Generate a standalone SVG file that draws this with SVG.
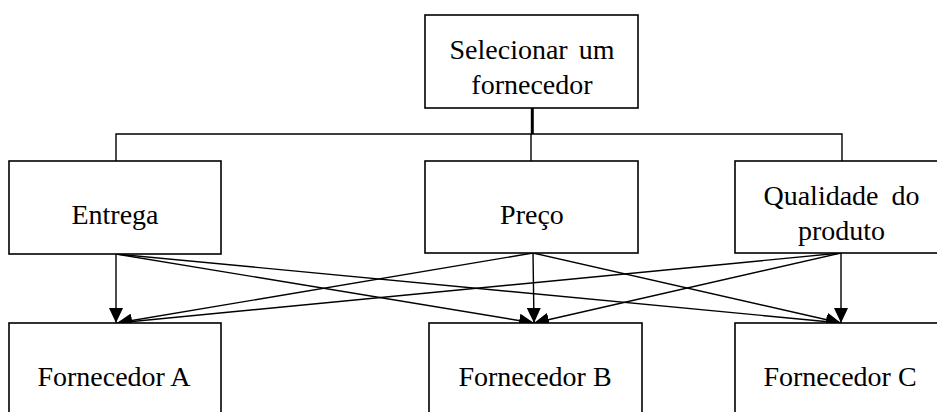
<svg xmlns="http://www.w3.org/2000/svg" width="937" height="412" viewBox="0 0 937 412">
  <style>
    .box { fill: #ffffff; stroke: #000000; stroke-width: 1.6; }
    .label { font-family: "Liberation Serif", "Times New Roman", serif; font-size: 28px; fill: #000000; text-anchor: middle; }
    .wire { fill: none; stroke: #000000; stroke-width: 1.4; }
    .arrow { fill: none; stroke: #000000; stroke-width: 1.4; marker-end: url(#head); }
  </style>
  <defs>
    <marker id="head" markerUnits="userSpaceOnUse" markerWidth="16" markerHeight="14" refX="15" refY="7" orient="auto">
      <path d="M0,0 L15,7 L0,14 Z" fill="#000000"/>
    </marker>
  </defs>
  <rect width="937" height="412" fill="#ffffff"/>

  <g id="connectors">
    <!-- hierarchy: goal to criteria -->
    <line class="wire" x1="532.3" y1="108" x2="532.3" y2="134" style="stroke-width:3"/>
    <polyline class="wire" points="116,161 116,134 842,134 842,161"/>
    <line class="wire" x1="531" y1="134" x2="531" y2="161"/>
    <!-- criteria to alternatives -->
    <line class="arrow" x1="116" y1="254" x2="116" y2="323"/>
    <line class="arrow" x1="116" y1="254" x2="534" y2="323"/>
    <line class="arrow" x1="116" y1="254" x2="841" y2="323"/>
    <line class="arrow" x1="533" y1="253" x2="117" y2="323"/>
    <line class="arrow" x1="533" y1="253" x2="534" y2="323"/>
    <line class="arrow" x1="533" y1="253" x2="841" y2="323"/>
    <line class="arrow" x1="841" y1="253" x2="117" y2="323"/>
    <line class="arrow" x1="841" y1="253" x2="534" y2="323"/>
    <line class="arrow" x1="841" y1="253" x2="841" y2="323"/>
  </g>

  <g id="goal">
    <rect class="box" x="425" y="15" width="213" height="93"/>
    <text class="label" x="532" y="59" word-spacing="4">Selecionar um</text>
    <text class="label" x="532" y="94">fornecedor</text>
  </g>

  <g id="entrega">
    <rect class="box" x="9" y="161" width="212" height="93"/>
    <text class="label" x="115" y="224">Entrega</text>
  </g>

  <g id="preco">
    <rect class="box" x="425" y="161" width="213" height="92"/>
    <text class="label" x="532" y="224">Preço</text>
  </g>

  <g id="qualidade">
    <rect class="box" x="735" y="161" width="213" height="92"/>
    <text class="label" x="841.5" y="205" word-spacing="6">Qualidade do</text>
    <text class="label" x="841.5" y="240">produto</text>
  </g>

  <g id="fornecedor-a">
    <rect class="box" x="9" y="323" width="212" height="100"/>
    <text class="label" x="114" y="386">Fornecedor A</text>
  </g>

  <g id="fornecedor-b">
    <rect class="box" x="429" y="323" width="213" height="100"/>
    <text class="label" x="535" y="386">Fornecedor B</text>
  </g>

  <g id="fornecedor-c">
    <rect class="box" x="735" y="323" width="213" height="100"/>
    <text class="label" x="840" y="386">Fornecedor C</text>
  </g>
</svg>
